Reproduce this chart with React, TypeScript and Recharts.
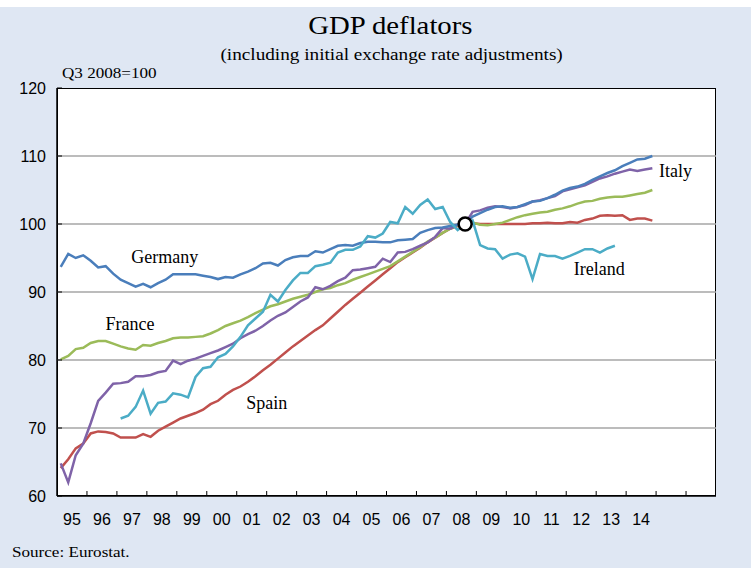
import { LineChart, Line, XAxis, YAxis, ReferenceLine, ReferenceDot } from 'recharts'

// quarterly, 1995Q1 .. 2014Q4 (Ireland 1997Q1 .. 2013Q3)
const years = ['95', '96', '97', '98', '99', '00', '01', '02', '03', '04', '05', '06', '07', '08', '09', '10', '11', '12', '13', '14']
const yTicks = [60, 70, 80, 90, 100, 110, 120]

const germany = [
  93.7, 95.6, 95.0, 95.4, 94.6, 93.6, 93.8, 92.7, 91.8, 91.3,
  90.8, 91.2, 90.7, 91.3, 91.8, 92.6, 92.6, 92.6, 92.6, 92.4,
  92.2, 91.9, 92.2, 92.1, 92.6, 93.0, 93.5, 94.2, 94.3, 93.9,
  94.7, 95.1, 95.3, 95.3, 96.0, 95.8, 96.3, 96.8, 96.9, 96.8,
  97.2, 97.4, 97.4, 97.3, 97.3, 97.6, 97.7, 97.8, 98.7, 99.1,
  99.4, 99.5, 99.7, 99.9, 100.0, 101.1, 101.6, 102.1, 102.5, 102.6,
  102.4, 102.5, 102.9, 103.3, 103.4, 103.8, 104.3, 104.9, 105.3, 105.5,
  105.9, 106.5, 107.0, 107.5, 107.9, 108.5, 109.0, 109.5, 109.6, 110.0,
]
const france = [
  80.1, 80.6, 81.6, 81.8, 82.5, 82.8, 82.8, 82.4, 82.0, 81.7,
  81.5, 82.2, 82.1, 82.5, 82.8, 83.2, 83.3, 83.3, 83.4, 83.5,
  83.9, 84.4, 85.0, 85.4, 85.8, 86.3, 86.9, 87.4, 87.9, 88.2,
  88.6, 89.0, 89.3, 89.6, 90.0, 90.4, 90.6, 91.0, 91.3, 91.8,
  92.2, 92.6, 93.0, 93.4, 93.8, 94.5, 95.2, 95.9, 96.6, 97.4,
  98.0, 98.7, 99.3, 99.8, 100.0, 100.2, 99.9, 99.8, 100.0, 100.2,
  100.6, 101.0, 101.3, 101.5, 101.7, 101.8, 102.1, 102.3, 102.6, 103.0,
  103.3, 103.4, 103.7, 103.9, 104.0, 104.0, 104.2, 104.4, 104.6, 105.0,
]
const italy = [
  64.8, 62.0, 66.0, 67.7, 70.7, 74.0, 75.2, 76.5, 76.6, 76.8,
  77.6, 77.6, 77.8, 78.2, 78.4, 79.9, 79.4, 79.9, 80.2, 80.6,
  81.0, 81.4, 81.9, 82.4, 83.2, 83.8, 84.3, 85.0, 85.8, 86.5,
  87.0, 87.8, 88.6, 89.2, 90.7, 90.4, 90.9, 91.6, 92.1, 93.2,
  93.3, 93.5, 93.7, 94.9, 94.4, 95.8, 95.9, 96.3, 96.8, 97.3,
  98.1, 99.4, 99.3, 99.9, 100.0, 101.8, 102.0, 102.4, 102.6, 102.5,
  102.3, 102.5, 102.8, 103.3, 103.5, 103.8, 104.1, 104.8, 105.1, 105.4,
  105.7, 106.2, 106.7, 107.0, 107.4, 107.7, 108.0, 107.8, 108.0, 108.2,
]
const spain = [
  64.1, 65.4, 67.0, 67.7, 69.2, 69.5, 69.4, 69.2, 68.6, 68.6,
  68.6, 69.1, 68.7, 69.6, 70.2, 70.8, 71.4, 71.8, 72.2, 72.7,
  73.5, 74.0, 74.9, 75.6, 76.1, 76.8, 77.6, 78.5, 79.3, 80.2,
  81.1, 82.0, 82.8, 83.6, 84.4, 85.1, 86.1, 87.1, 88.1, 89.0,
  89.9, 90.8, 91.7, 92.6, 93.5, 94.4, 95.1, 95.8, 96.5, 97.3,
  98.0, 98.7, 99.3, 99.7, 100.0, 100.1, 100.0, 100.0, 100.0, 100.0,
  100.0, 100.0, 100.0, 100.1, 100.1, 100.2, 100.1, 100.1, 100.3, 100.2,
  100.6, 100.8, 101.2, 101.3, 101.2, 101.3, 100.6, 100.8, 100.8, 100.5,
]
const irelandStart = 8 // 1997Q1
const ireland = [
  71.4, 71.8,
  73.1, 75.5, 72.1, 73.7, 73.9, 75.1, 74.9, 74.5, 77.5, 78.8,
  79.0, 80.4, 80.9, 82.0, 83.4, 85.1, 86.1, 87.1, 89.6, 88.6,
  90.3, 91.7, 92.8, 92.8, 93.8, 94.0, 94.3, 95.8, 96.2, 96.2,
  96.7, 98.2, 98.0, 98.6, 100.3, 100.1, 102.5, 101.5, 102.8, 103.6,
  102.2, 102.5, 100.3, 99.1, 100.0, 100.5, 96.9, 96.4, 96.3, 94.9,
  95.5, 95.7, 95.2, 91.9, 95.6, 95.3, 95.3, 94.9, 95.3, 95.8,
  96.3, 96.3, 95.8, 96.4, 96.8,
]
const baseQuarter = 54 // Q3 2008 = 100
const totalQuarters = 88 // axis runs to end of 2016

const data = germany.map((_, i) => {
  const k = i - irelandStart
  return {
    q: i + 0.5,
    germany: germany[i],
    france: france[i],
    italy: italy[i],
    spain: spain[i],
    ireland: k >= 0 && k < ireland.length ? ireland[k] : null,
  }
})

const xTicks = Array.from({ length: totalQuarters / 2 - 1 }, (_, i) => (i + 1) * 2)

const serif = '"Liberation Serif", "Times New Roman", serif'
const sans = '"Liberation Sans", Arial, sans-serif'

function XTick(props: any) {
  const { x, y, payload } = props
  const v = payload.value as number
  if (v % 4 === 0) {
    return <line x1={x} x2={x} y1={y} y2={y - 5} stroke="#000" strokeWidth={1} />
  }
  const label = years[(v - 2) / 4]
  if (!label) return <g />
  return (
    <text x={x} y={y + 29} textAnchor="middle" fontFamily={sans} fontSize={16} fill="#000">
      {label}
    </text>
  )
}

function YTick(props: any) {
  const { x, y, payload } = props
  return (
    <g>
      <line x1={x} x2={x + 5} y1={y} y2={y} stroke="#000" strokeWidth={1} />
      <text x={x - 11} y={y + 6} textAnchor="end" fontFamily={sans} fontSize={16} fill="#000">
        {payload.value}
      </text>
    </g>
  )
}

const labelStyle = { fontFamily: serif, fontSize: 18, fill: '#000' }

export default function App() {
  return (
    <div style={{ position: 'absolute', left: 0, top: 0, width: 751, height: 568, background: '#dfe7f3', fontFamily: serif }}>
      <div style={{ position: 'absolute', left: 0, top: 0, width: 751, height: 7, background: '#fff' }} />
      <div style={{ position: 'absolute', left: 57, top: 88, width: 659, height: 408, background: '#fff', border: '1px solid #000', boxSizing: 'border-box' }} />
      <div style={{ position: 'absolute', left: 0, width: 780, top: 11, textAlign: 'center', fontSize: 25, lineHeight: '30px' }}>
        <span style={{ display: 'inline-block', transform: 'scaleX(1.15)' }}>GDP deflators</span>
      </div>
      <div style={{ position: 'absolute', left: 0, width: 783, top: 45, textAlign: 'center', fontSize: 16, lineHeight: '20px' }}>
        <span style={{ display: 'inline-block', transform: 'scaleX(1.2)' }}>(including initial exchange rate adjustments)</span>
      </div>
      <div style={{ position: 'absolute', left: 62, top: 66, fontSize: 14, lineHeight: '16px', transform: 'scaleX(1.22)', transformOrigin: 'left' }}>
        Q3 2008=100
      </div>
      <div style={{ position: 'absolute', left: 12, top: 545, fontSize: 14, lineHeight: '16px', transform: 'scaleX(1.22)', transformOrigin: 'left' }}>
        Source: Eurostat.
      </div>
      <div style={{ position: 'absolute', left: 0, top: 0 }}>
        <LineChart width={751} height={568} data={data} margin={{ top: 88, right: 35, bottom: 0, left: 0 }}>
          {yTicks.slice(1, -1).map((v) => (
            <ReferenceLine key={v} y={v} stroke="#a6a6a6" strokeWidth={1.5} />
          ))}
          <XAxis
            type="number"
            dataKey="q"
            domain={[0, totalQuarters]}
            ticks={xTicks}
            interval={0}
            tick={<XTick />}
            tickLine={false}
            tickSize={0}
            tickMargin={0}
            axisLine={{ stroke: '#000', strokeWidth: 1.5 }}
            height={72}
            allowDataOverflow
          />
          <YAxis
            type="number"
            domain={[60, 120]}
            ticks={yTicks}
            interval={0}
            tick={<YTick />}
            tickLine={false}
            tickSize={0}
            tickMargin={0}
            axisLine={{ stroke: '#000', strokeWidth: 1.5 }}
            width={57}
          />
          <Line type="linear" dataKey="spain" stroke="#c0504d" strokeWidth={2.5} dot={false} isAnimationActive={false} />
          <Line type="linear" dataKey="france" stroke="#9bbb59" strokeWidth={2.5} dot={false} isAnimationActive={false} />
          <Line type="linear" dataKey="italy" stroke="#7f63a8" strokeWidth={2.5} dot={false} isAnimationActive={false} />
          <Line type="linear" dataKey="germany" stroke="#4a7ebb" strokeWidth={2.5} dot={false} isAnimationActive={false} />
          <Line type="linear" dataKey="ireland" stroke="#4bacc6" strokeWidth={2.5} dot={false} isAnimationActive={false} />
          <ReferenceDot x={baseQuarter + 0.5} y={100} r={6.5} fill="#fff" stroke="#000" strokeWidth={2.5} />
          <ReferenceDot x={14.4} y={95.2} r={0} label={{ value: 'Germany', position: 'center', ...labelStyle }} />
          <ReferenceDot x={9.75} y={85.4} r={0} label={{ value: 'France', position: 'center', ...labelStyle }} />
          <ReferenceDot x={28} y={73.7} r={0} label={{ value: 'Spain', position: 'center', ...labelStyle }} />
          <ReferenceDot x={82.6} y={107.9} r={0} label={{ value: 'Italy', position: 'center', ...labelStyle }} />
          <ReferenceDot x={72.4} y={93.4} r={0} label={{ value: 'Ireland', position: 'center', ...labelStyle }} />
        </LineChart>
      </div>
    </div>
  )
}
